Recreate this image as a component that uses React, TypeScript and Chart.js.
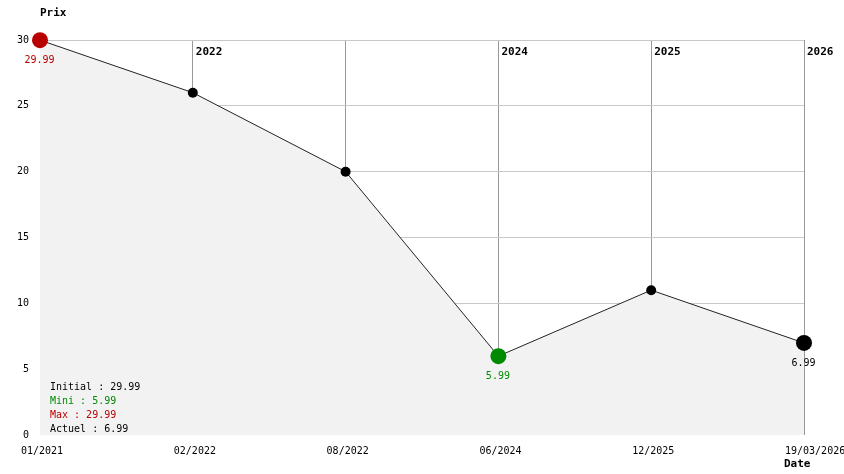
import React, { useEffect, useRef } from 'react';
import { Chart, registerables } from 'chart.js';

Chart.register(...registerables);

const dateLabels = ['01/2021', '02/2022', '08/2022', '06/2024', '12/2025', '19/03/2026'];
const prices = [29.99, 26, 20, 5.99, 11, 6.99];
const yearMarkIndex = [1, 3, 4, 5];
const yearMarkText = ['2022', '2024', '2025', '2026'];
const yMin = 0;
const yMax = 30;
const yStep = 5;
const summaryLabels = ['Initial', 'Mini', 'Max', 'Actuel'];
const yTitle = 'Prix';
const xTitle = 'Date';

const MONO = '"DejaVu Sans Mono", "Liberation Mono", monospace';
const RED = '#b80000';
const GREEN = '#008a00';

export default function App() {
  const ref = useRef<HTMLCanvasElement>(null);

  useEffect(() => {
    if (!ref.current) return;
    const minIdx = prices.indexOf(Math.min(...prices));
    const maxIdx = prices.indexOf(Math.max(...prices));
    const lastIdx = prices.length - 1;
    const summaryValues = [prices[0], prices[minIdx], prices[maxIdx], prices[lastIdx]];
    const summaryColors = ['#000', GREEN, RED, '#000'];
    const pointColor = (i: number) => (i === maxIdx ? RED : i === minIdx ? GREEN : '#000');
    const isKey = (i: number) => i === maxIdx || i === minIdx || i === lastIdx;

    const overlay = {
      id: 'overlay',
      afterDatasetsDraw(chart: any) {
        const { ctx, chartArea, scales } = chart;
        const x = scales.x;
        const meta = chart.getDatasetMeta(0);
        ctx.save();
        ctx.font = `10px ${MONO}`;
        ctx.textAlign = 'center';
        ctx.textBaseline = 'alphabetic';
        [maxIdx, minIdx, lastIdx].forEach((i) => {
          const el = meta.data[i];
          ctx.fillStyle = pointColor(i);
          ctx.fillText(prices[i].toFixed(2), el.x - 0.5, el.y + 23);
        });
        ctx.textAlign = 'left';
        summaryLabels.forEach((lab, k) => {
          ctx.fillStyle = summaryColors[k];
          ctx.fillText(`${lab} : ${summaryValues[k].toFixed(2)}`, chartArea.left + 10, chartArea.bottom - 45 + 14 * k);
        });
        ctx.font = `bold 11px ${MONO}`;
        ctx.fillStyle = '#000';
        yearMarkIndex.forEach((idx, k) => {
          ctx.fillText(yearMarkText[k], x.getPixelForValue(idx) + 3, chartArea.top + 15);
        });
        ctx.fillText(yTitle, chartArea.left, chartArea.top - 24);
        ctx.fillText(xTitle, chartArea.right - 20, chartArea.bottom + 32);
        ctx.restore();
      },
    };

    const chart = new Chart(ref.current, {
      type: 'line',
      data: {
        labels: dateLabels,
        datasets: [
          {
            data: prices,
            borderColor: '#222',
            borderWidth: 1,
            backgroundColor: '#f2f2f2',
            fill: 'origin',
            tension: 0,
            clip: false as any,
            pointRadius: (c: any) => (isKey(c.dataIndex) ? 8 : 5),
            pointHoverRadius: (c: any) => (isKey(c.dataIndex) ? 8 : 5),
            pointBorderWidth: 0,
            pointBackgroundColor: (c: any) => pointColor(c.dataIndex),
            pointBorderColor: (c: any) => pointColor(c.dataIndex),
          },
        ],
      },
      options: {
        responsive: false,
        animation: false,
        events: [],
        layout: { padding: { top: 40, right: 40, left: 0, bottom: 0 } },
        plugins: { legend: { display: false }, tooltip: { enabled: false } },
        scales: {
          x: {
            type: 'category',
            offset: false,
            border: { display: false },
            grid: { color: '#999999', lineWidth: 1, drawTicks: false },
            ticks: {
              color: '#000',
              font: { family: MONO, size: 10 },
              align: 'start',
              labelOffset: -19,
              padding: 10,
              autoSkip: false,
              maxRotation: 0,
              minRotation: 0,
            },
            afterFit(scale: any) {
              scale.height = 39;
              scale.paddingLeft = 0;
              scale.paddingRight = 0;
            },
          },
          y: {
            min: yMin,
            max: yMax,
            border: { display: false },
            grid: {
              color: (c: any) => (c.tick && c.tick.value === 0 ? 'rgba(0,0,0,0)' : '#c8c8c8'),
              lineWidth: 1,
              drawTicks: false,
            },
            ticks: {
              stepSize: yStep,
              color: '#000',
              font: { family: MONO, size: 10 },
              padding: 11,
            },
            afterFit(scale: any) {
              scale.width = 40;
              scale.paddingTop = 0;
              scale.paddingBottom = 0;
            },
          },
        },
      },
      plugins: [overlay],
    });
    return () => chart.destroy();
  }, []);

  return (
    <div style={{ position: 'absolute', left: 0, top: 0, width: 844, height: 474, background: '#fff' }}>
      <canvas ref={ref} width={844} height={474} />
    </div>
  );
}
